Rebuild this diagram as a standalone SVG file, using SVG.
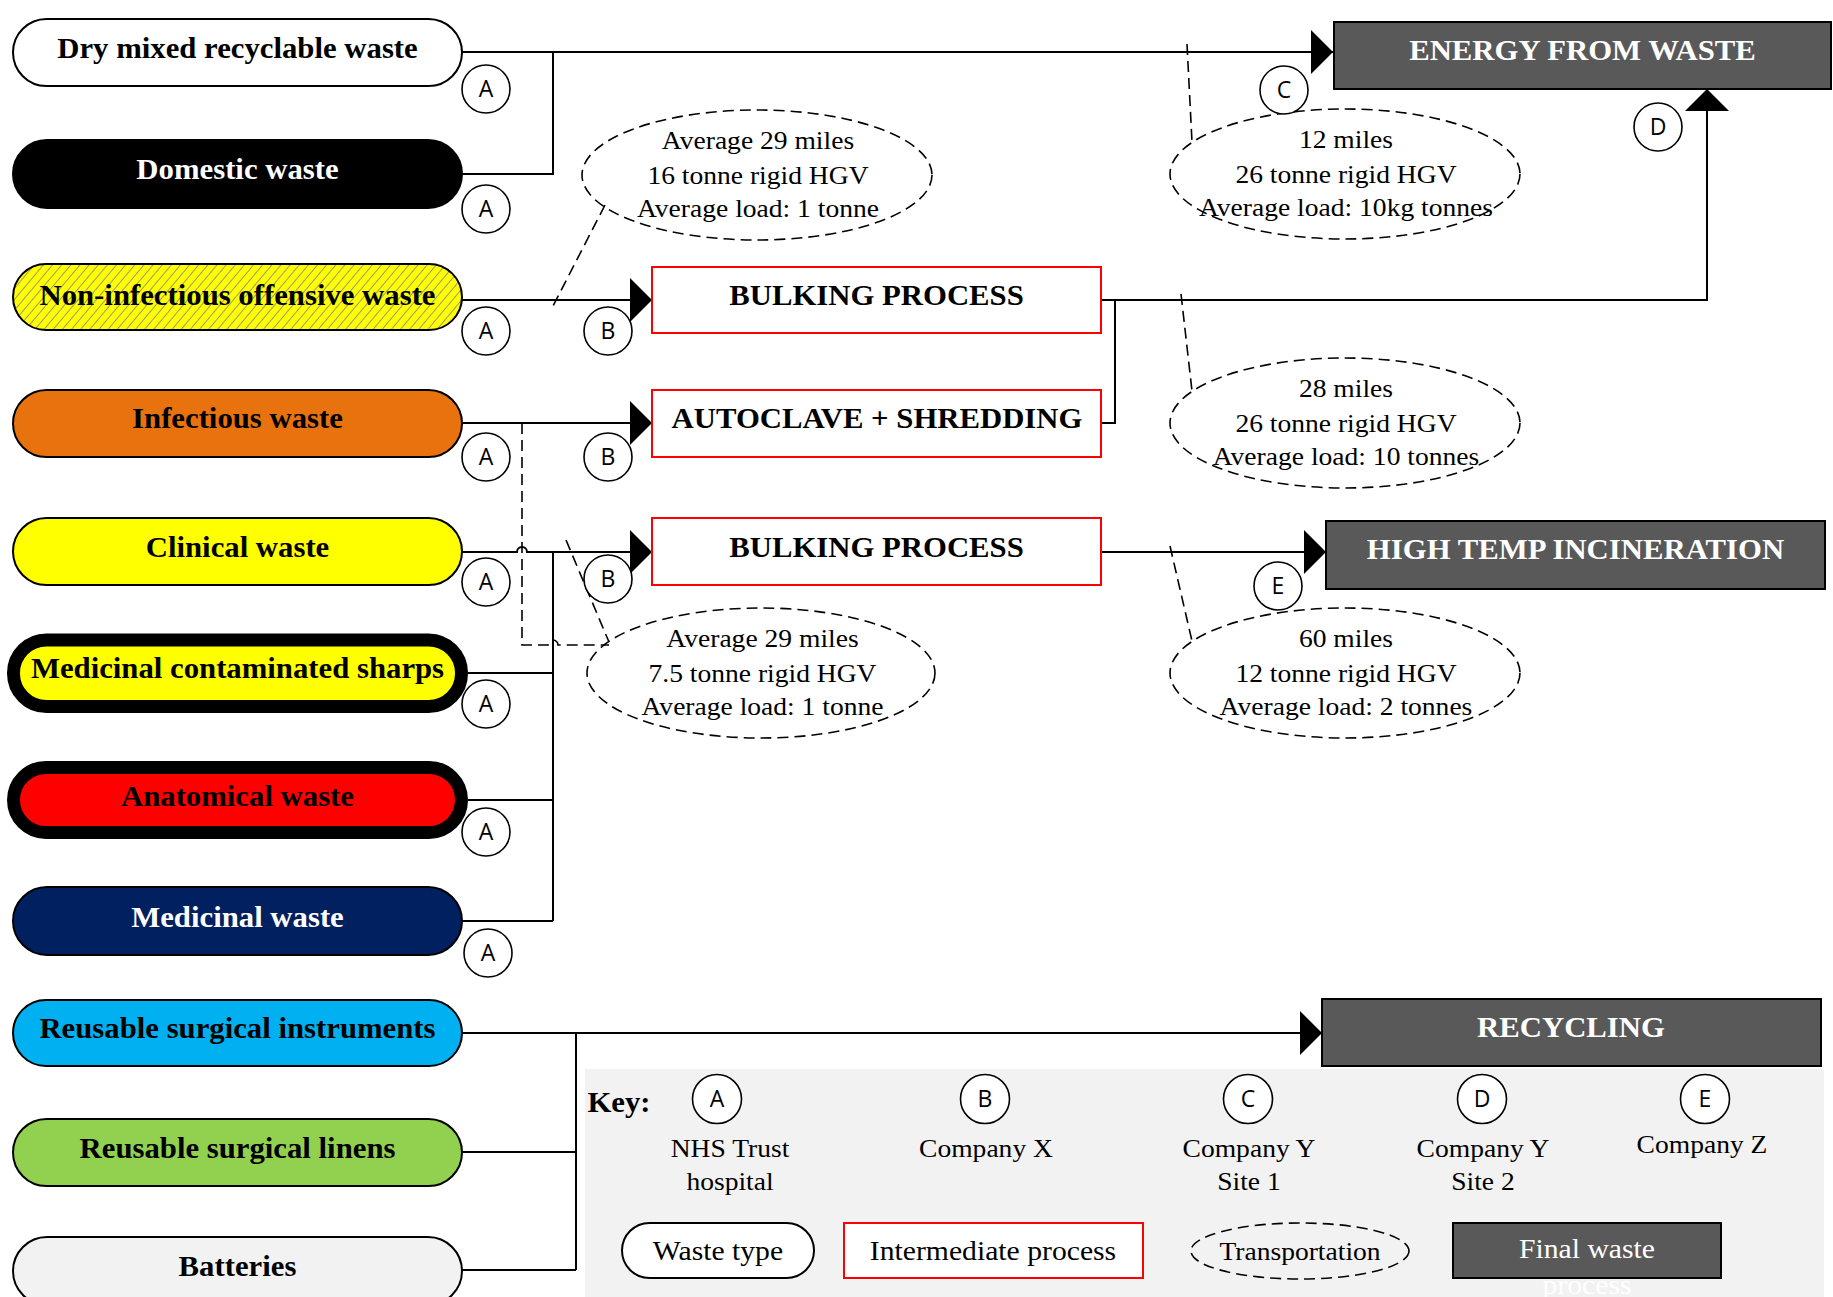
<svg xmlns="http://www.w3.org/2000/svg" width="1833" height="1297" viewBox="0 0 1833 1297">
<style>
.pill{stroke:#000;stroke-width:2}
.thick{stroke:#000;stroke-width:13}
.proc{fill:#fff;stroke:#FF0000;stroke-width:2}
.fin{fill:#595959;stroke:#000;stroke-width:2}
.tb{font-family:"Liberation Serif","Times New Roman",serif;font-weight:bold;font-size:29px;text-anchor:middle}
.tr{font-family:"Liberation Serif","Times New Roman",serif;font-size:26px;text-anchor:middle}
.w{fill:#fff}
.c{fill:#fff;stroke:#000;stroke-width:1.6}
.cl{font-family:"Open Sans","DejaVu Sans",sans-serif;font-size:23px;text-anchor:middle}
.ln{fill:none;stroke:#000;stroke-width:2}
.dash{fill:none;stroke:#000;stroke-width:1.6;stroke-dasharray:11 6}
</style>
<defs>
<marker id="arr" markerWidth="22" markerHeight="44" refX="22" refY="22" orient="auto" markerUnits="userSpaceOnUse">
<path d="M0,0 L22,22 L0,44 Z" fill="#000"/>
</marker>
<pattern id="hatch" width="7" height="7" patternUnits="userSpaceOnUse" patternTransform="rotate(40)">
<rect width="7" height="7" fill="#FFFF00"/>
<line x1="0" y1="0" x2="0" y2="7" stroke="#9a9a7a" stroke-width="2"/>
</pattern>
</defs>
<rect width="1833" height="1297" fill="#fff"/>

<g id="key-background">
<rect x="585" y="1069" width="1239" height="228" fill="#F2F2F2"/>
</g>

<g id="connectors">
<path class="ln" d="M462,52 H1333" marker-end="url(#arr)"/>
<path class="ln" d="M462,174 H553 V52"/>
<path class="ln" d="M462,300 H652" marker-end="url(#arr)"/>
<path class="ln" d="M1101,300 H1707 V89" marker-end="url(#arr)"/>
<path class="ln" d="M1101,423 H1115 V300"/>
<path class="ln" d="M462,423 H652" marker-end="url(#arr)"/>
<path class="ln" d="M462,552 H517 A5,5 0 0 1 527,552 H652" marker-end="url(#arr)"/>
<path class="ln" d="M553,552 V921"/>
<path class="ln" d="M468,673 H553"/>
<path class="ln" d="M468,800 H553"/>
<path class="ln" d="M462,921 H553"/>
<path class="ln" d="M1101,552 H1326" marker-end="url(#arr)"/>
<path class="ln" d="M462,1033 H1322" marker-end="url(#arr)"/>
<path class="ln" d="M576,1033 V1270"/>
<path class="ln" d="M462,1152 H576"/>
<path class="ln" d="M462,1270 H576"/>
<path class="dash" d="M605,205 L551,310"/>
<path class="dash" d="M1187,44 L1192,142"/>
<path class="dash" d="M1181,294 L1192,391"/>
<path class="dash" d="M1170,546 L1192,641"/>
<path class="dash" d="M566,540 L609,642"/>
<path class="dash" d="M522,423 V645 H548 A5,5 0 0 1 558,645 H609"/>
</g>

<g id="dry-mixed">
<rect class="pill" x="13" y="19" width="449" height="67" rx="33.5" fill="#fff"/>
<text class="tb" x="224.06" y="58" transform="scale(1.06,1)">Dry mixed recyclable waste</text>
</g>
<g id="domestic">
<rect class="pill" x="13" y="140" width="449" height="68" rx="34" fill="#000"/>
<text class="tb w" x="224.06" y="179" transform="scale(1.06,1)">Domestic waste</text>
</g>
<g id="non-infectious">
<rect class="pill" x="13" y="264" width="449" height="66" rx="33" fill="url(#hatch)"/>
<text class="tb" x="224.06" y="305" transform="scale(1.06,1)">Non-infectious offensive waste</text>
</g>
<g id="infectious">
<rect class="pill" x="13" y="390" width="449" height="67" rx="33.5" fill="#E8720E"/>
<text class="tb" x="224.06" y="428" transform="scale(1.06,1)">Infectious waste</text>
</g>
<g id="clinical">
<rect class="pill" x="13" y="518" width="449" height="67" rx="33.5" fill="#FFFF00"/>
<text class="tb" x="224.06" y="557" transform="scale(1.06,1)">Clinical waste</text>
</g>
<g id="sharps">
<rect class="thick" x="13.5" y="640" width="448" height="66.5" rx="33" fill="#FFFF00"/>
<text class="tb" x="224.06" y="678" transform="scale(1.06,1)">Medicinal contaminated sharps</text>
</g>
<g id="anatomical">
<rect class="thick" x="13.5" y="767.5" width="448" height="65" rx="32.5" fill="#FF0000"/>
<text class="tb" x="224.06" y="806" transform="scale(1.06,1)">Anatomical waste</text>
</g>
<g id="medicinal">
<rect class="pill" x="13" y="887" width="449" height="68" rx="34" fill="#002060"/>
<text class="tb w" x="224.06" y="927" transform="scale(1.06,1)">Medicinal waste</text>
</g>
<g id="instruments">
<rect class="pill" x="13" y="1000" width="449" height="66" rx="33" fill="#00B0F0"/>
<text class="tb" x="224.06" y="1038" transform="scale(1.06,1)">Reusable surgical instruments</text>
</g>
<g id="linens">
<rect class="pill" x="13" y="1119" width="449" height="67" rx="33.5" fill="#92D050"/>
<text class="tb" x="224.06" y="1158" transform="scale(1.06,1)">Reusable surgical linens</text>
</g>
<g id="batteries">
<rect class="pill" x="13" y="1237" width="449" height="68" rx="34" fill="#F2F2F2"/>
<text class="tb" x="224.06" y="1276" transform="scale(1.06,1)">Batteries</text>
</g>

<g id="bulking-1">
<rect class="proc" x="652" y="267" width="449" height="66"/>
<text class="tb" x="826.89" y="305" transform="scale(1.06,1)">BULKING PROCESS</text>
</g>
<g id="autoclave">
<rect class="proc" x="652" y="390" width="449" height="67"/>
<text class="tb" x="827.36" y="428" transform="scale(1.06,1)">AUTOCLAVE + SHREDDING</text>
</g>
<g id="bulking-2">
<rect class="proc" x="652" y="518" width="449" height="67"/>
<text class="tb" x="826.89" y="557" transform="scale(1.06,1)">BULKING PROCESS</text>
</g>

<g id="energy-from-waste">
<rect class="fin" x="1334" y="22" width="497" height="67"/>
<text class="tb w" x="1492.92" y="60" transform="scale(1.06,1)">ENERGY FROM WASTE</text>
</g>
<g id="high-temp">
<rect class="fin" x="1326" y="521" width="499" height="68"/>
<text class="tb w" x="1486.32" y="559" transform="scale(1.06,1)">HIGH TEMP INCINERATION</text>
</g>
<g id="recycling">
<rect class="fin" x="1322" y="999" width="499" height="67"/>
<text class="tb w" x="1482.08" y="1037" transform="scale(1.06,1)">RECYCLING</text>
</g>

<g id="transport-1">
<ellipse class="dash" cx="757" cy="175" rx="175" ry="65"/>
<text class="tr" transform="scale(1.06,1)"><tspan x="715.09" y="149">Average 29 miles</tspan><tspan x="715.09" y="184">16 tonne rigid HGV</tspan><tspan x="715.09" y="217">Average load: 1 tonne</tspan></text>
</g>
<g id="transport-2">
<ellipse class="dash" cx="1345" cy="174" rx="175" ry="65"/>
<text class="tr" transform="scale(1.06,1)"><tspan x="1269.81" y="148">12 miles</tspan><tspan x="1269.81" y="183">26 tonne rigid HGV</tspan><tspan x="1269.81" y="216">Average load: 10kg tonnes</tspan></text>
</g>
<g id="transport-3">
<ellipse class="dash" cx="1345" cy="423" rx="175" ry="65"/>
<text class="tr" transform="scale(1.06,1)"><tspan x="1269.81" y="397">28 miles</tspan><tspan x="1269.81" y="432">26 tonne rigid HGV</tspan><tspan x="1269.81" y="465">Average load: 10 tonnes</tspan></text>
</g>
<g id="transport-4">
<ellipse class="dash" cx="1345" cy="673" rx="175" ry="65"/>
<text class="tr" transform="scale(1.06,1)"><tspan x="1269.81" y="647">60 miles</tspan><tspan x="1269.81" y="682">12 tonne rigid HGV</tspan><tspan x="1269.81" y="715">Average load: 2 tonnes</tspan></text>
</g>
<g id="transport-5">
<ellipse class="dash" cx="761" cy="673" rx="174" ry="65"/>
<text class="tr" transform="scale(1.06,1)"><tspan x="719.34" y="647">Average 29 miles</tspan><tspan x="719.34" y="682">7.5 tonne rigid HGV</tspan><tspan x="719.34" y="715">Average load: 1 tonne</tspan></text>
</g>

<g id="site-labels">
<circle class="c" cx="486" cy="89" r="24"/><text class="cl" x="486" y="97">A</text>
<circle class="c" cx="486" cy="209" r="24"/><text class="cl" x="486" y="217">A</text>
<circle class="c" cx="486" cy="331" r="24"/><text class="cl" x="486" y="339">A</text>
<circle class="c" cx="486" cy="457" r="24"/><text class="cl" x="486" y="465">A</text>
<circle class="c" cx="486" cy="582" r="24"/><text class="cl" x="486" y="590">A</text>
<circle class="c" cx="486" cy="704" r="24"/><text class="cl" x="486" y="712">A</text>
<circle class="c" cx="486" cy="832" r="24"/><text class="cl" x="486" y="840">A</text>
<circle class="c" cx="488" cy="953" r="24"/><text class="cl" x="488" y="961">A</text>
<circle class="c" cx="608" cy="331" r="24"/><text class="cl" x="608" y="339">B</text>
<circle class="c" cx="608" cy="457" r="24"/><text class="cl" x="608" y="465">B</text>
<circle class="c" cx="608" cy="579" r="24"/><text class="cl" x="608" y="587">B</text>
<circle class="c" cx="1284" cy="90" r="24"/><text class="cl" x="1284" y="98">C</text>
<circle class="c" cx="1658" cy="127" r="24"/><text class="cl" x="1658" y="135">D</text>
<circle class="c" cx="1278" cy="586" r="24"/><text class="cl" x="1278" y="594">E</text>
</g>

<g id="key">
<text class="tb" x="583.96" y="1112" transform="scale(1.06,1)">Key:</text>
<circle class="c" cx="717" cy="1099" r="24.5"/><text class="cl" x="717" y="1107">A</text>
<circle class="c" cx="985" cy="1099" r="24.5"/><text class="cl" x="985" y="1107">B</text>
<circle class="c" cx="1248" cy="1099" r="24.5"/><text class="cl" x="1248" y="1107">C</text>
<circle class="c" cx="1482" cy="1099" r="24.5"/><text class="cl" x="1482" y="1107">D</text>
<circle class="c" cx="1705" cy="1099" r="24.5"/><text class="cl" x="1705" y="1107">E</text>
<text class="tr" transform="scale(1.06,1)"><tspan x="688.68" y="1157">NHS Trust</tspan><tspan x="688.68" y="1190">hospital</tspan></text>
<text class="tr" x="930.19" y="1157" transform="scale(1.06,1)">Company X</text>
<text class="tr" transform="scale(1.06,1)"><tspan x="1178.3" y="1157">Company Y</tspan><tspan x="1178.3" y="1190">Site 1</tspan></text>
<text class="tr" transform="scale(1.06,1)"><tspan x="1399.06" y="1157">Company Y</tspan><tspan x="1399.06" y="1190">Site 2</tspan></text>
<text class="tr" x="1605.66" y="1153" transform="scale(1.06,1)">Company Z</text>
<rect class="pill" x="622" y="1223" width="192" height="55" rx="27.5" fill="#fff"/>
<text class="tr" x="677.36" y="1260" style="font-size:28px" transform="scale(1.06,1)">Waste type</text>
<rect class="proc" x="844" y="1223" width="299" height="55"/>
<text class="tr" x="936.79" y="1260" style="font-size:28px" transform="scale(1.06,1)">Intermediate process</text>
<ellipse class="dash" cx="1300" cy="1251" rx="109" ry="28" fill="#fff"/>
<text class="tr" x="1226.42" y="1260" transform="scale(1.06,1)">Transportation</text>
<rect class="fin" x="1453" y="1223" width="268" height="55"/>
<text class="tr w" x="1497.17" y="1258" style="font-size:28px" transform="scale(1.06,1)">Final waste</text>
<text class="tr w" x="1497.17" y="1294" style="font-size:28px" transform="scale(1.06,1)">process</text>
</g>
</svg>
